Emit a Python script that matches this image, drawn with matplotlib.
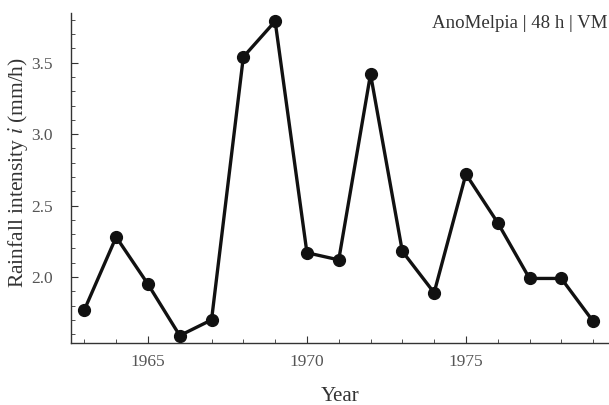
import matplotlib.pyplot as plt
from matplotlib.ticker import MultipleLocator

years = [1963, 1964, 1965, 1966, 1967, 1968, 1969, 1970, 1971,
         1972, 1973, 1974, 1975, 1976, 1977, 1978, 1979]
intensity = [1.77, 2.28, 1.95, 1.59, 1.70, 3.54, 3.79, 2.17, 2.12,
             3.42, 2.18, 1.89, 2.72, 2.38, 1.99, 1.99, 1.69]
label = "AnoMelpia | 48 h | VM"

plt.rcParams['font.family'] = ['Liberation Serif', 'DejaVu Serif']
plt.rcParams['mathtext.fontset'] = 'stix'

fig = plt.figure(figsize=(6.09, 4.05), dpi=100)
ax = fig.add_axes([0.1166, 0.153, 0.8834, 0.815])

ax.plot(years, intensity, color="#111111", lw=2.4, marker="o", ms=8.5,
        markerfacecolor="#111111", markeredgecolor="#111111", clip_on=False)

ax.set_xlim(1962.58, 1979.5)
ax.set_ylim(1.538, 3.848)

ax.xaxis.set_major_locator(MultipleLocator(5))
ax.xaxis.set_minor_locator(MultipleLocator(1))
ax.yaxis.set_major_locator(MultipleLocator(0.5))
ax.yaxis.set_minor_locator(MultipleLocator(0.1))
ax.yaxis.set_major_formatter(plt.FormatStrFormatter('%.1f'))

for s in ["top", "right"]:
    ax.spines[s].set_visible(False)
for s in ["left", "bottom"]:
    ax.spines[s].set_color("#333333")
    ax.spines[s].set_linewidth(1.0)

ax.tick_params(which="both", direction="in", colors="#333333", labelcolor="#555555",
               labelsize=12.5)
ax.tick_params(which="major", length=5, width=0.8)
ax.tick_params(axis="x", which="major", pad=8)
ax.tick_params(axis="y", which="major", pad=13)
ax.tick_params(which="minor", length=3, width=0.6)

ax.set_xlabel("Year", fontsize=15, color="#333333", labelpad=12)
ax.set_ylabel("Rainfall intensity $i$ (mm/h)", fontsize=15.5, color="#333333",
              va="center")
ax.yaxis.set_label_coords(-0.099, 0.518)

fig.text(0.998, 0.943, label, ha="right", va="center", fontsize=13.6, color="#333333")

fig.savefig("out.png", dpi=100)
